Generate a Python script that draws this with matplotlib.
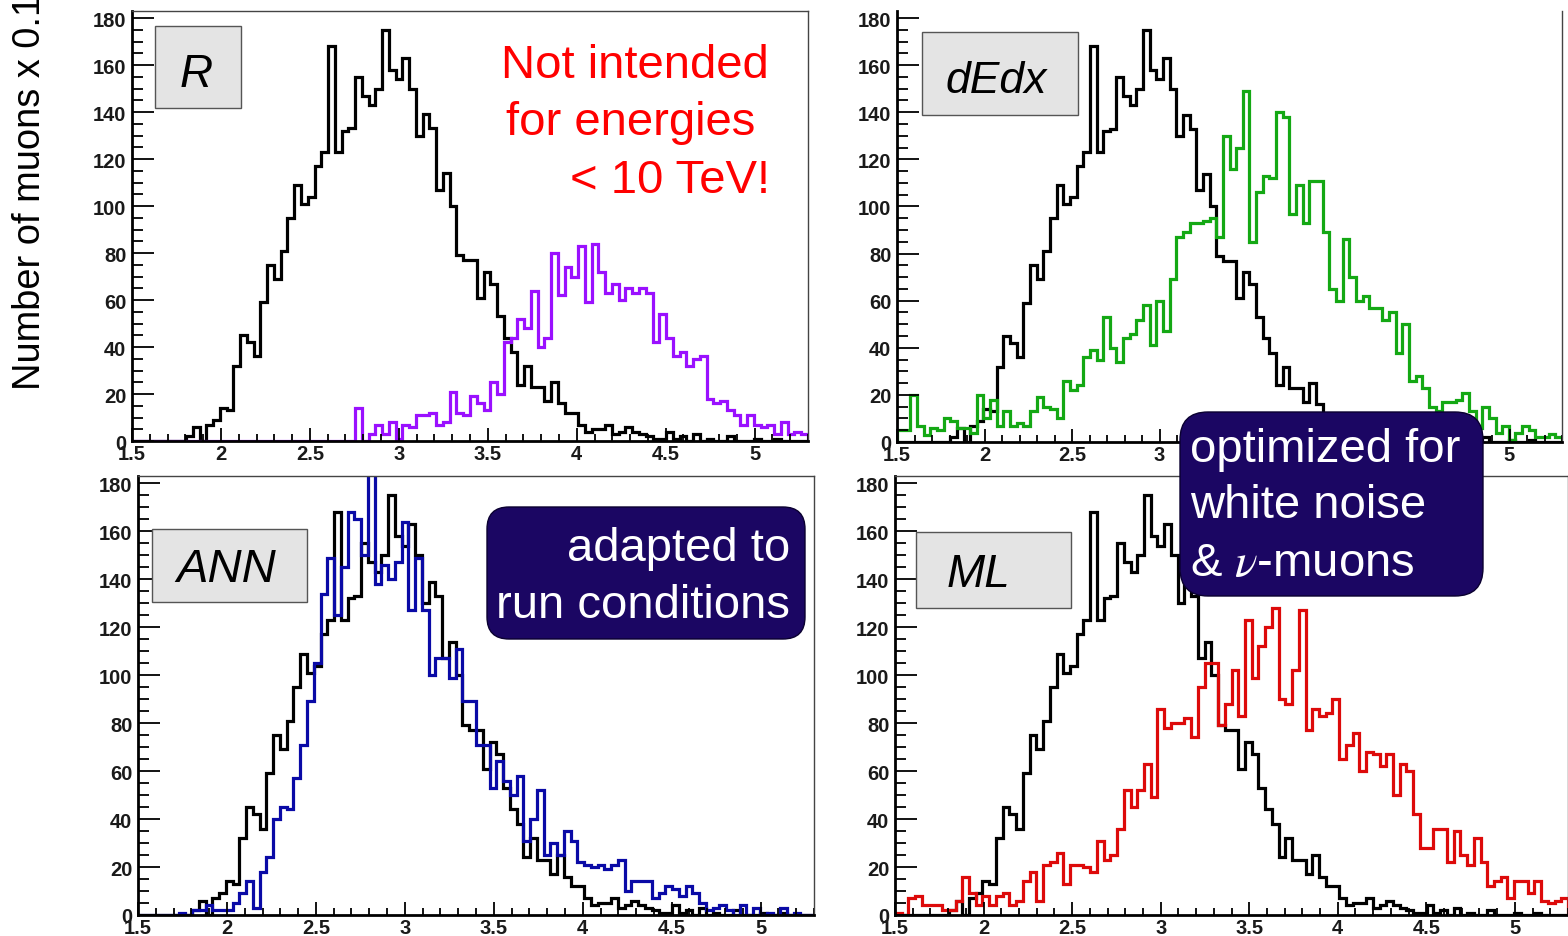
import numpy as np
import matplotlib
matplotlib.use("Agg")
import matplotlib.pyplot as plt
from matplotlib.patches import FancyBboxPatch, Rectangle
from matplotlib.ticker import MultipleLocator
from matplotlib.transforms import Affine2D

plt.rcParams['font.family'] = ['Liberation Sans', 'DejaVu Sans']
plt.rcParams['mathtext.fontset'] = 'stix'

W, H, DPI = 1568, 937, 100

# ---------------- data ----------------
bin_edges = np.linspace(1.5, 5.3, 101)

reference_counts = [
    0, 0, 0, 0, 0, 0, 0, 0, 2, 6,
    0, 7, 9, 14, 13, 32, 45, 42, 36, 59,
    75, 69, 81, 95, 109, 101, 104, 117, 123, 168,
    123, 132, 133, 155, 147, 143, 150, 175, 158, 154,
    163, 150, 130, 139, 133, 107, 114, 100, 79, 77,
    77, 61, 72, 67, 53, 44, 38, 24, 32, 23,
    23, 17, 25, 16, 12, 12, 7, 4, 5, 5,
    7, 3, 4, 6, 4, 3, 2, 1, 1, 4,
    1, 2, 0, 3, 0, 1, 0, 0, 2, 0,
    0, 0, 1, 0, 0, 1, 0, 0, 0, 0]

R_counts = [
    0, 0, 0, 0, 0, 0, 0, 0, 0, 0,
    0, 0, 0, 0, 0, 0, 0, 0, 0, 0,
    0, 0, 0, 0, 0, 0, 0, 0, 0, 0,
    0, 0, 0, 14, 0, 3, 7, 3, 8, 1,
    7, 6, 11, 11, 12, 7, 8, 21, 12, 11,
    19, 16, 13, 25, 20, 42, 44, 52, 48, 64,
    40, 44, 80, 62, 74, 70, 83, 59, 84, 72,
    63, 67, 60, 65, 63, 65, 63, 42, 54, 44,
    36, 38, 32, 35, 36, 18, 16, 17, 13, 11,
    7, 11, 7, 6, 7, 3, 8, 3, 4, 3]

dEdx_counts = [
    5, 5, 20, 7, 3, 6, 5, 10, 9, 6,
    6, 4, 20, 10, 18, 7, 13, 7, 8, 7,
    13, 19, 15, 14, 10, 26, 22, 24, 36, 39,
    35, 53, 40, 34, 44, 46, 52, 58, 41, 60,
    47, 69, 87, 89, 93, 93, 94, 95, 87, 130,
    116, 125, 149, 85, 106, 113, 112, 140, 138, 97,
    109, 93, 111, 111, 89, 65, 60, 86, 70, 60,
    62, 57, 57, 52, 55, 38, 50, 26, 28, 23,
    15, 13, 17, 17, 18, 21, 13, 6, 15, 10,
    4, 7, 1, 4, 7, 5, 2, 2, 3.5, 2]

ANN_counts = [
    0, 0, 0, 0, 0, 0, 1, 0, 2, 2,
    4, 2, 2, 2, 5, 9, 14, 3, 18, 24,
    40, 45, 44, 57, 71, 89, 105, 134, 149, 125,
    145, 168, 165, 150, 200, 138, 146, 140, 147, 164,
    127, 149, 127, 100, 107, 107, 99, 111, 89, 89,
    71, 71, 53, 64, 56, 50, 58, 31, 40, 52,
    25, 30, 25, 35, 31, 22, 21, 20, 21, 19,
    21, 23, 10, 14, 14, 14, 7, 9, 12, 11,
    8, 12, 9, 5, 2, 3, 4, 2, 0, 4,
    0, 3, 0, 1, 0, 3, 0, 1, 0, 0]

ML_counts = [
    1, 0, 7, 8, 4, 4, 4, 2, 2, 6,
    16, 9, 4, 8, 4, 8, 9, 4, 6, 14,
    18, 6, 21, 22, 26, 13, 21, 21, 20, 18,
    31, 23, 25, 36, 52, 45, 52, 63, 49, 86,
    78, 80, 80, 82, 74, 95, 105, 105, 79, 88,
    102, 83, 123, 99, 112, 120, 128, 90, 88, 102,
    127, 77, 86, 83, 84, 90, 65, 71, 76, 60,
    68, 67, 62, 67, 50, 63, 60, 42, 28, 28,
    36, 36, 22, 35, 25, 21, 32, 22, 12, 14,
    16, 7, 14, 14, 9, 14, 6, 5, 6, 7]

x_ticks = [1.5, 2, 2.5, 3, 3.5, 4, 4.5, 5]
x_tick_labels = ['1.5', '2', '2.5', '3', '3.5', '4', '4.5', '5']
y_ticks = [0, 20, 40, 60, 80, 100, 120, 140, 160, 180]
panel_names = ['R', 'dEdx', 'ANN', 'ML']
panel_series = [R_counts, dEdx_counts, ANN_counts, ML_counts]
panel_colors = ['#9a10ff', '#14a814', '#0a0aa6', '#dd0a0a']
y_label = 'Number of muons x 0.1'
note_R = ['Not intended', 'for energies', '< 10 TeV!']
note_ANN = ['adapted to', 'run conditions']
note_ML = ['optimized for', 'white noise', r'& $\nu$-muons']

# ---------------- layout (pixels: left, top, right, bottom) ----------------
fig = plt.figure(figsize=(W / DPI, H / DPI), dpi=DPI)
PX = Affine2D().scale(1.0 / W, -1.0 / H).translate(0, 1) + fig.transFigure

panel_boxes = [(132, 12, 808, 442), (897, 12, 1562, 443),
               (138, 477, 814, 916), (895, 477, 1568, 916)]
label_boxes = [(155, 27, 241, 109), (922, 33, 1078, 116),
               (152, 530, 307, 603), (916, 533, 1071, 609)]
label_text_pos = [(196, 87, 33), (996, 93, 32), (226, 582, 34), (978, 587, 33)]


def ptext(x, y, s, **kw):
    return fig.text(x / W, 1 - y / H, s, **kw)


axes = []
for i, (l, t, r, b) in enumerate(panel_boxes):
    ax = fig.add_axes([l / W, 1 - b / H, (r - l) / W, (b - t) / H])
    ax.stairs(reference_counts, bin_edges, color='black', lw=2.3, baseline=0)
    ax.stairs(panel_series[i], bin_edges, color=panel_colors[i], lw=2.3, baseline=0)
    ax.set_xlim(1.5, 5.3)
    ax.set_ylim(0, 183)
    ax.set_xticks(x_ticks)
    ax.set_xticklabels(x_tick_labels)
    ax.set_yticks(y_ticks)
    ax.xaxis.set_minor_locator(MultipleLocator(0.1))
    ax.yaxis.set_minor_locator(MultipleLocator(5))
    ax.tick_params(axis='y', which='major', direction='in', length=16, width=1.3,
                   pad=4, labelsize=14.5, colors='black')
    ax.tick_params(axis='y', which='minor', direction='in', length=8, width=1.3)
    ax.tick_params(axis='x', which='major', direction='in', length=9.5, width=1.3,
                   pad=2, labelsize=14.5)
    ax.tick_params(axis='x', which='minor', direction='in', length=5, width=1.3)
    for lab in ax.get_xticklabels() + ax.get_yticklabels():
        lab.set_fontweight('bold')
        lab.set_color('#1a1a1a')
    for s in ('left', 'bottom'):
        ax.spines[s].set_linewidth(2.0)
        ax.spines[s].set_color('black')
    for s in ('top', 'right'):
        ax.spines[s].set_linewidth(1.0)
        ax.spines[s].set_color('#444444')
    if i == 1:
        ax.spines['top'].set_visible(False)
    ax.patch.set_alpha(0)
    axes.append(ax)

# panel name boxes
for (l, t, r, b), name, (tx, ty, fs) in zip(label_boxes, panel_names, label_text_pos):
    fig.patches.append(Rectangle((l, t), r - l, b - t, transform=PX,
                                 facecolor='#e4e4e4', edgecolor='#555555', lw=1.0, zorder=2))
    ptext(tx, ty, name, ha='center', va='baseline', fontsize=fs, style='italic',
          color='black', zorder=3)

# y-axis label
fig.text(40 / W, 1 - 390 / H, y_label, rotation=90, rotation_mode='anchor',
         ha='left', va='baseline', fontsize=27.4, color='black')

# red note in R panel
ptext(635, 78, note_R[0], ha='center', va='baseline', fontsize=34, color='#ff0000')
ptext(631, 135, note_R[1], ha='center', va='baseline', fontsize=34, color='#ff0000')
ptext(770, 193, note_R[2], ha='right', va='baseline', fontsize=34, color='#ff0000')

# navy callouts
navy = '#1b0663'
fig.patches.append(FancyBboxPatch((487, 508), 805 - 487, 640 - 508, transform=PX,
                                  boxstyle='round,pad=0,rounding_size=22',
                                  facecolor=navy, edgecolor='#0a0030', lw=1.0, zorder=4))
ptext(790, 561, note_ANN[0], ha='right', va='baseline', fontsize=34, color='white', zorder=5)
ptext(790, 618, note_ANN[1], ha='right', va='baseline', fontsize=34, color='white', zorder=5)

fig.patches.append(FancyBboxPatch((1180, 413), 1483 - 1180, 597 - 413, transform=PX,
                                  boxstyle='round,pad=0,rounding_size=28',
                                  facecolor=navy, edgecolor='#0a0030', lw=1.0, zorder=4))
for line, yb in zip(note_ML, [462, 518, 576]):
    ptext(1190, yb, line, ha='left', va='baseline', fontsize=34, color='white', zorder=5)

fig.savefig('out.png', dpi=DPI, facecolor='white')
